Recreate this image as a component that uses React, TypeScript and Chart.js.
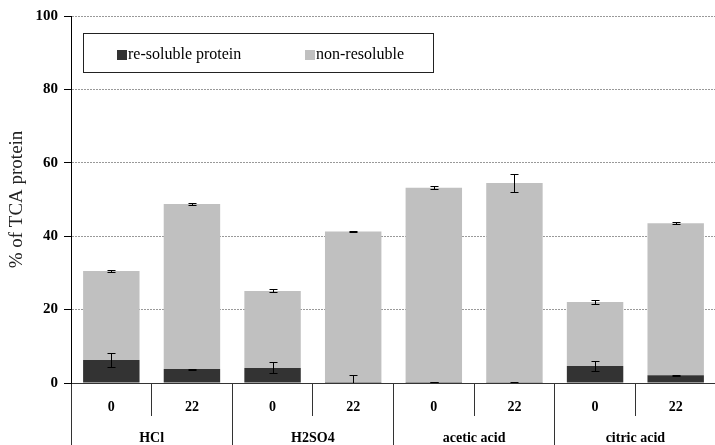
import React, { useEffect, useRef } from 'react';
import { Chart, registerables } from 'chart.js';

Chart.register(...registerables);

const categories = ['0', '22', '0', '22', '0', '22', '0', '22'];
const groups = ['HCl', 'H2SO4', 'acetic acid', 'citric acid'];
const resoluble = [6.3, 3.8, 4.1, 0.3, 0.3, 0.1, 4.6, 2.1];
const resolubleErr = [2.0, 0.15, 1.5, 1.8, 0.1, 0.05, 1.3, 0.15];
const nonResoluble = [24.2, 45.0, 21.0, 41.0, 52.9, 54.4, 17.5, 41.4];
const totalErr = [0.25, 0.35, 0.4, 0.25, 0.35, 2.5, 0.45, 0.25];
const seriesLabels = ['re-soluble protein', 'non-resoluble'];
const seriesColors = ['#333333', '#C0C0C0'];
const yMin = 0;
const yMax = 100;
const yStep = 20;

const FONT = '"Liberation Serif", "Times New Roman", serif';

const errorBarsPlugin = {
  id: 'errorBars',
  afterDatasetsDraw(chart: any, _args: any, opts: any) {
    const { ctx, chartArea } = chart;
    const yScale = chart.scales.y;
    const errs: number[][] = opts.errors;
    ctx.save();
    ctx.beginPath();
    ctx.rect(chartArea.left, chartArea.top, chartArea.right - chartArea.left, chartArea.bottom - chartArea.top);
    ctx.clip();
    ctx.strokeStyle = '#000';
    ctx.lineWidth = 1;
    chart.data.datasets.forEach((ds: any, di: number) => {
      const meta = chart.getDatasetMeta(di);
      meta.data.forEach((bar: any, i: number) => {
        let top = 0;
        for (let k = 0; k <= di; k++) top += chart.data.datasets[k].data[i];
        const e = errs[di][i];
        const x = Math.round(bar.x) + 0.5;
        const y1 = Math.round(yScale.getPixelForValue(top + e)) + 0.5;
        const y2 = Math.round(yScale.getPixelForValue(top - e)) + 0.5;
        ctx.beginPath();
        ctx.moveTo(x, y1);
        ctx.lineTo(x, y2);
        ctx.moveTo(x - 4, y1);
        ctx.lineTo(x + 4, y1);
        ctx.moveTo(x - 4, y2);
        ctx.lineTo(x + 4, y2);
        ctx.stroke();
      });
    });
    ctx.restore();
  },
};

const boxLegendPlugin = {
  id: 'boxLegend',
  afterDraw(chart: any) {
    const { ctx, chartArea } = chart;
    const left = Math.round(chartArea.left + 12);
    const top = Math.round(chartArea.top + 17);
    const w = 350;
    const h = 39;
    ctx.save();
    ctx.fillStyle = '#fff';
    ctx.fillRect(left, top, w, h);
    ctx.strokeStyle = '#222';
    ctx.lineWidth = 1;
    ctx.strokeRect(left + 0.5, top + 0.5, w, h);
    ctx.font = '16px ' + FONT;
    ctx.textBaseline = 'middle';
    ctx.textAlign = 'left';
    const itemX = [left + 34, left + 222];
    chart.data.datasets.forEach((ds: any, i: number) => {
      ctx.fillStyle = ds.backgroundColor;
      ctx.fillRect(itemX[i], top + 17, 10, 10);
      ctx.fillStyle = '#000';
      ctx.fillText(ds.label, itemX[i] + 11, top + 22);
    });
    ctx.restore();
  },
};

export default function App() {
  const ref = useRef<HTMLCanvasElement | null>(null);

  useEffect(() => {
    if (!ref.current) return;
    const chart = new Chart(ref.current, {
      type: 'bar',
      data: {
        labels: categories,
        datasets: [
          {
            label: seriesLabels[0],
            data: resoluble,
            backgroundColor: seriesColors[0],
            borderWidth: 0,
            barPercentage: 0.7,
            categoryPercentage: 1.0,
            xAxisID: 'x',
          },
          {
            label: seriesLabels[1],
            data: nonResoluble,
            backgroundColor: seriesColors[1],
            borderWidth: 0,
            barPercentage: 0.7,
            categoryPercentage: 1.0,
            xAxisID: 'x',
          },
        ],
      },
      options: {
        responsive: false,
        animation: false,
        layout: { padding: { top: 16, right: 4, bottom: 0, left: 0 } },
        plugins: {
          legend: { display: false },
          tooltip: { enabled: false },
          errorBars: { errors: [resolubleErr, totalErr] },
        } as any,
        scales: {
          x: {
            type: 'category',
            stacked: true,
            offset: true,
            position: 'bottom',
            weight: 0,
            grid: {
              offset: true,
              drawOnChartArea: false,
              tickLength: 33,
              tickColor: '#333',
              color: '#333',
            },
            border: { display: true, color: '#333', width: 1 },
            ticks: {
              color: '#000',
              font: { family: FONT, size: 14, weight: 'bold' },
              padding: -17,
              maxRotation: 0,
              autoSkip: false,
            },
            afterFit: (s: any) => {
              s.height = 33;
            },
          },
          x2: {
            type: 'category',
            labels: groups,
            position: 'bottom',
            offset: true,
            weight: 1,
            grid: {
              offset: true,
              drawOnChartArea: false,
              tickLength: 29,
              tickColor: '#333',
              color: '#333',
            },
            border: { display: false },
            ticks: {
              color: '#000',
              font: { family: FONT, size: 14, weight: 'bold' },
              padding: -15,
              maxRotation: 0,
              autoSkip: false,
            },
            afterFit: (s: any) => {
              s.height = 29;
            },
          },
          y: {
            stacked: true,
            min: yMin,
            max: yMax,
            ticks: {
              stepSize: yStep,
              color: '#000',
              font: { family: FONT, size: 15, weight: 'bold' },
              padding: 6,
            },
            grid: {
              color: (c: any) => (c.tick && c.tick.value === 0 ? 'rgba(0,0,0,0)' : '#999999'),
              tickColor: '#000',
              tickLength: 7,
            },
            border: { display: true, color: '#000', width: 1, dash: [2, 1] },
            title: {
              display: true,
              text: '% of TCA protein',
              color: '#222',
              font: { family: FONT, size: 19 },
              padding: { top: 6, bottom: 0 },
            },
            afterFit: (s: any) => {
              s.width = 71;
            },
          },
        } as any,
      },
      plugins: [errorBarsPlugin, boxLegendPlugin],
    });
    return () => chart.destroy();
  }, []);

  return (
    <div style={{ position: 'fixed', left: 0, top: 0, width: 715, height: 445, overflow: 'hidden', background: '#fff' }}>
      <canvas ref={ref} width={720} height={445} style={{ display: 'block', width: 720, height: 445 }} />
    </div>
  );
}
